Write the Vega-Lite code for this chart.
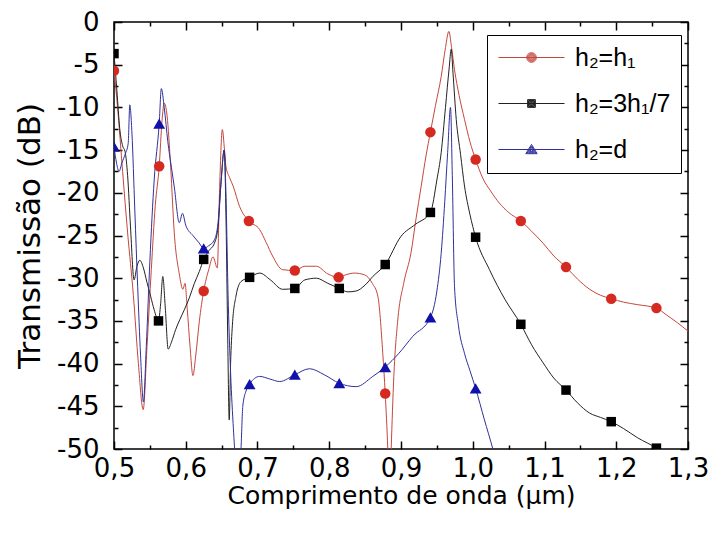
{
  "$schema": "https://vega.github.io/schema/vega-lite/v6.json",
  "width": 574,
  "height": 427,
  "autosize": {"type": "none"},
  "padding": {"left": 114, "top": 22, "right": 26, "bottom": 84},
  "background": "white",
  "config": {
    "view": {"stroke": "black", "strokeWidth": 1.5},
    "font": "DejaVu Sans",
    "axis": {
      "domain": false,
      "offset": -8,
      "tickSize": 8,
      "tickColor": "black",
      "tickWidth": 1.5,
      "grid": false,
      "labelFont": "DejaVu Sans",
      "labelFontSize": 26,
      "labelColor": "black",
      "labelOverlap": false,
      "labelFlush": false,
      "titleFont": "DejaVu Sans",
      "titleFontWeight": "normal",
      "titleColor": "black"
    }
  },
  "datasets": {
    "curves": [
      {"serie": "h₂=h₁", "x": 0.500, "y": -5.7},
      {"serie": "h₂=h₁", "x": 0.505, "y": -10},
      {"serie": "h₂=h₁", "x": 0.512, "y": -17.5},
      {"serie": "h₂=h₁", "x": 0.519, "y": -24.7},
      {"serie": "h₂=h₁", "x": 0.527, "y": -32},
      {"serie": "h₂=h₁", "x": 0.534, "y": -40},
      {"serie": "h₂=h₁", "x": 0.5407, "y": -45.4},
      {"serie": "h₂=h₁", "x": 0.546, "y": -38},
      {"serie": "h₂=h₁", "x": 0.552, "y": -29},
      {"serie": "h₂=h₁", "x": 0.5575, "y": -21.5},
      {"serie": "h₂=h₁", "x": 0.563, "y": -16.9},
      {"serie": "h₂=h₁", "x": 0.567, "y": -11.5},
      {"serie": "h₂=h₁", "x": 0.570, "y": -9.5},
      {"serie": "h₂=h₁", "x": 0.574, "y": -11},
      {"serie": "h₂=h₁", "x": 0.579, "y": -17},
      {"serie": "h₂=h₁", "x": 0.584, "y": -24.7},
      {"serie": "h₂=h₁", "x": 0.591, "y": -29.5},
      {"serie": "h₂=h₁", "x": 0.596, "y": -31.3},
      {"serie": "h₂=h₁", "x": 0.599, "y": -30.6},
      {"serie": "h₂=h₁", "x": 0.602, "y": -33.5},
      {"serie": "h₂=h₁", "x": 0.606, "y": -38},
      {"serie": "h₂=h₁", "x": 0.610, "y": -41.4},
      {"serie": "h₂=h₁", "x": 0.614, "y": -39},
      {"serie": "h₂=h₁", "x": 0.619, "y": -35},
      {"serie": "h₂=h₁", "x": 0.625, "y": -31.5},
      {"serie": "h₂=h₁", "x": 0.632, "y": -29},
      {"serie": "h₂=h₁", "x": 0.638, "y": -27.5},
      {"serie": "h₂=h₁", "x": 0.644, "y": -28.8},
      {"serie": "h₂=h₁", "x": 0.647, "y": -20},
      {"serie": "h₂=h₁", "x": 0.651, "y": -12.6},
      {"serie": "h₂=h₁", "x": 0.654, "y": -15},
      {"serie": "h₂=h₁", "x": 0.656, "y": -16.9},
      {"serie": "h₂=h₁", "x": 0.661, "y": -18.2},
      {"serie": "h₂=h₁", "x": 0.666, "y": -19.2},
      {"serie": "h₂=h₁", "x": 0.675, "y": -21.6},
      {"serie": "h₂=h₁", "x": 0.688, "y": -23.3},
      {"serie": "h₂=h₁", "x": 0.703, "y": -24.3},
      {"serie": "h₂=h₁", "x": 0.712, "y": -25.8},
      {"serie": "h₂=h₁", "x": 0.721, "y": -27.4},
      {"serie": "h₂=h₁", "x": 0.735, "y": -29.0},
      {"serie": "h₂=h₁", "x": 0.752, "y": -29.1},
      {"serie": "h₂=h₁", "x": 0.766, "y": -28.6},
      {"serie": "h₂=h₁", "x": 0.782, "y": -28.6},
      {"serie": "h₂=h₁", "x": 0.798, "y": -29.5},
      {"serie": "h₂=h₁", "x": 0.813, "y": -29.9},
      {"serie": "h₂=h₁", "x": 0.823, "y": -29.6},
      {"serie": "h₂=h₁", "x": 0.835, "y": -29.4},
      {"serie": "h₂=h₁", "x": 0.849, "y": -29.6},
      {"serie": "h₂=h₁", "x": 0.860, "y": -30.6},
      {"serie": "h₂=h₁", "x": 0.8677, "y": -32.1},
      {"serie": "h₂=h₁", "x": 0.8746, "y": -38.8},
      {"serie": "h₂=h₁", "x": 0.878, "y": -43.5},
      {"serie": "h₂=h₁", "x": 0.8816, "y": -50},
      {"serie": "h₂=h₁", "x": 0.884, "y": -56},
      {"serie": "h₂=h₁", "x": 0.8863, "y": -50},
      {"serie": "h₂=h₁", "x": 0.890, "y": -41.5},
      {"serie": "h₂=h₁", "x": 0.8955, "y": -34.9},
      {"serie": "h₂=h₁", "x": 0.904, "y": -30.5},
      {"serie": "h₂=h₁", "x": 0.914, "y": -27.0},
      {"serie": "h₂=h₁", "x": 0.921, "y": -23},
      {"serie": "h₂=h₁", "x": 0.928, "y": -19.3},
      {"serie": "h₂=h₁", "x": 0.935, "y": -15.6},
      {"serie": "h₂=h₁", "x": 0.941, "y": -12.9},
      {"serie": "h₂=h₁", "x": 0.948, "y": -9.8},
      {"serie": "h₂=h₁", "x": 0.956, "y": -6.4},
      {"serie": "h₂=h₁", "x": 0.962, "y": -3},
      {"serie": "h₂=h₁", "x": 0.9667, "y": -1.1},
      {"serie": "h₂=h₁", "x": 0.9705, "y": -3},
      {"serie": "h₂=h₁", "x": 0.9746, "y": -5.6},
      {"serie": "h₂=h₁", "x": 0.981, "y": -8.6},
      {"serie": "h₂=h₁", "x": 0.9885, "y": -11.4},
      {"serie": "h₂=h₁", "x": 0.996, "y": -14},
      {"serie": "h₂=h₁", "x": 1.004, "y": -16.1},
      {"serie": "h₂=h₁", "x": 1.014, "y": -18.3},
      {"serie": "h₂=h₁", "x": 1.025, "y": -19.8},
      {"serie": "h₂=h₁", "x": 1.037, "y": -21.2},
      {"serie": "h₂=h₁", "x": 1.050, "y": -22.3},
      {"serie": "h₂=h₁", "x": 1.067, "y": -23.3},
      {"serie": "h₂=h₁", "x": 1.082, "y": -24.5},
      {"serie": "h₂=h₁", "x": 1.098, "y": -25.9},
      {"serie": "h₂=h₁", "x": 1.113, "y": -27.4},
      {"serie": "h₂=h₁", "x": 1.130, "y": -28.7},
      {"serie": "h₂=h₁", "x": 1.146, "y": -30.1},
      {"serie": "h₂=h₁", "x": 1.163, "y": -31.3},
      {"serie": "h₂=h₁", "x": 1.178, "y": -32.0},
      {"serie": "h₂=h₁", "x": 1.193, "y": -32.4},
      {"serie": "h₂=h₁", "x": 1.210, "y": -32.8},
      {"serie": "h₂=h₁", "x": 1.230, "y": -33.1},
      {"serie": "h₂=h₁", "x": 1.256, "y": -33.5},
      {"serie": "h₂=h₁", "x": 1.270, "y": -34.3},
      {"serie": "h₂=h₁", "x": 1.285, "y": -35.2},
      {"serie": "h₂=h₁", "x": 1.300, "y": -36.2},

      {"serie": "h₂=3h₁/7", "x": 0.500, "y": -3.7},
      {"serie": "h₂=3h₁/7", "x": 0.504, "y": -8},
      {"serie": "h₂=3h₁/7", "x": 0.508, "y": -12.5},
      {"serie": "h₂=3h₁/7", "x": 0.512, "y": -14.5},
      {"serie": "h₂=3h₁/7", "x": 0.5155, "y": -15.2},
      {"serie": "h₂=3h₁/7", "x": 0.519, "y": -18},
      {"serie": "h₂=3h₁/7", "x": 0.523, "y": -24},
      {"serie": "h₂=3h₁/7", "x": 0.528, "y": -30.2},
      {"serie": "h₂=3h₁/7", "x": 0.532, "y": -28.6},
      {"serie": "h₂=3h₁/7", "x": 0.536, "y": -27.9},
      {"serie": "h₂=3h₁/7", "x": 0.541, "y": -28.8},
      {"serie": "h₂=3h₁/7", "x": 0.546, "y": -30.5},
      {"serie": "h₂=3h₁/7", "x": 0.551, "y": -32.1},
      {"serie": "h₂=3h₁/7", "x": 0.556, "y": -33.7},
      {"serie": "h₂=3h₁/7", "x": 0.562, "y": -35.0},
      {"serie": "h₂=3h₁/7", "x": 0.565, "y": -33},
      {"serie": "h₂=3h₁/7", "x": 0.568, "y": -29.8},
      {"serie": "h₂=3h₁/7", "x": 0.5715, "y": -33.5},
      {"serie": "h₂=3h₁/7", "x": 0.5755, "y": -38.3},
      {"serie": "h₂=3h₁/7", "x": 0.580, "y": -37.5},
      {"serie": "h₂=3h₁/7", "x": 0.586, "y": -36},
      {"serie": "h₂=3h₁/7", "x": 0.592, "y": -34.8},
      {"serie": "h₂=3h₁/7", "x": 0.598, "y": -33.7},
      {"serie": "h₂=3h₁/7", "x": 0.605, "y": -32.3},
      {"serie": "h₂=3h₁/7", "x": 0.612, "y": -30.6},
      {"serie": "h₂=3h₁/7", "x": 0.619, "y": -29.2},
      {"serie": "h₂=3h₁/7", "x": 0.625, "y": -27.8},
      {"serie": "h₂=3h₁/7", "x": 0.632, "y": -26.8},
      {"serie": "h₂=3h₁/7", "x": 0.640, "y": -25.9},
      {"serie": "h₂=3h₁/7", "x": 0.645, "y": -24},
      {"serie": "h₂=3h₁/7", "x": 0.649, "y": -19},
      {"serie": "h₂=3h₁/7", "x": 0.6536, "y": -15},
      {"serie": "h₂=3h₁/7", "x": 0.6565, "y": -25},
      {"serie": "h₂=3h₁/7", "x": 0.6585, "y": -37},
      {"serie": "h₂=3h₁/7", "x": 0.6606, "y": -46.6},
      {"serie": "h₂=3h₁/7", "x": 0.6625, "y": -40},
      {"serie": "h₂=3h₁/7", "x": 0.665, "y": -35.5},
      {"serie": "h₂=3h₁/7", "x": 0.670, "y": -32.1},
      {"serie": "h₂=3h₁/7", "x": 0.677, "y": -30.4},
      {"serie": "h₂=3h₁/7", "x": 0.689, "y": -29.9},
      {"serie": "h₂=3h₁/7", "x": 0.703, "y": -29.4},
      {"serie": "h₂=3h₁/7", "x": 0.718, "y": -30.2},
      {"serie": "h₂=3h₁/7", "x": 0.735, "y": -31.3},
      {"serie": "h₂=3h₁/7", "x": 0.752, "y": -31.2},
      {"serie": "h₂=3h₁/7", "x": 0.766, "y": -30.2},
      {"serie": "h₂=3h₁/7", "x": 0.782, "y": -30.0},
      {"serie": "h₂=3h₁/7", "x": 0.798, "y": -30.6},
      {"serie": "h₂=3h₁/7", "x": 0.814, "y": -31.2},
      {"serie": "h₂=3h₁/7", "x": 0.826, "y": -31.6},
      {"serie": "h₂=3h₁/7", "x": 0.8375, "y": -31.5},
      {"serie": "h₂=3h₁/7", "x": 0.850, "y": -30.8},
      {"serie": "h₂=3h₁/7", "x": 0.8607, "y": -29.8},
      {"serie": "h₂=3h₁/7", "x": 0.878, "y": -28.4},
      {"serie": "h₂=3h₁/7", "x": 0.900, "y": -25.1},
      {"serie": "h₂=3h₁/7", "x": 0.920, "y": -23.7},
      {"serie": "h₂=3h₁/7", "x": 0.941, "y": -22.3},
      {"serie": "h₂=3h₁/7", "x": 0.950, "y": -18.5},
      {"serie": "h₂=3h₁/7", "x": 0.956, "y": -15.3},
      {"serie": "h₂=3h₁/7", "x": 0.962, "y": -10},
      {"serie": "h₂=3h₁/7", "x": 0.967, "y": -5.5},
      {"serie": "h₂=3h₁/7", "x": 0.970, "y": -3.2},
      {"serie": "h₂=3h₁/7", "x": 0.9725, "y": -6},
      {"serie": "h₂=3h₁/7", "x": 0.977, "y": -11.4},
      {"serie": "h₂=3h₁/7", "x": 0.983, "y": -15.5},
      {"serie": "h₂=3h₁/7", "x": 0.9885, "y": -19.2},
      {"serie": "h₂=3h₁/7", "x": 0.996, "y": -22.5},
      {"serie": "h₂=3h₁/7", "x": 1.004, "y": -25.2},
      {"serie": "h₂=3h₁/7", "x": 1.0233, "y": -29.0},
      {"serie": "h₂=3h₁/7", "x": 1.045, "y": -32.5},
      {"serie": "h₂=3h₁/7", "x": 1.067, "y": -35.4},
      {"serie": "h₂=3h₁/7", "x": 1.082, "y": -37.8},
      {"serie": "h₂=3h₁/7", "x": 1.098, "y": -39.9},
      {"serie": "h₂=3h₁/7", "x": 1.113, "y": -41.7},
      {"serie": "h₂=3h₁/7", "x": 1.130, "y": -43.1},
      {"serie": "h₂=3h₁/7", "x": 1.146, "y": -44.6},
      {"serie": "h₂=3h₁/7", "x": 1.163, "y": -45.8},
      {"serie": "h₂=3h₁/7", "x": 1.178, "y": -46.3},
      {"serie": "h₂=3h₁/7", "x": 1.193, "y": -46.8},
      {"serie": "h₂=3h₁/7", "x": 1.210, "y": -47.6},
      {"serie": "h₂=3h₁/7", "x": 1.230, "y": -48.7},
      {"serie": "h₂=3h₁/7", "x": 1.256, "y": -49.9},
      {"serie": "h₂=3h₁/7", "x": 1.280, "y": -51.5},
      {"serie": "h₂=3h₁/7", "x": 1.300, "y": -53},

      {"serie": "h₂=d", "x": 0.500, "y": -14.6},
      {"serie": "h₂=d", "x": 0.5035, "y": -16.5},
      {"serie": "h₂=d", "x": 0.507, "y": -17.5},
      {"serie": "h₂=d", "x": 0.511, "y": -16.5},
      {"serie": "h₂=d", "x": 0.5155, "y": -15.5},
      {"serie": "h₂=d", "x": 0.5198, "y": -14.2},
      {"serie": "h₂=d", "x": 0.522, "y": -9.7},
      {"serie": "h₂=d", "x": 0.525, "y": -13},
      {"serie": "h₂=d", "x": 0.529, "y": -22},
      {"serie": "h₂=d", "x": 0.533, "y": -31},
      {"serie": "h₂=d", "x": 0.537, "y": -39},
      {"serie": "h₂=d", "x": 0.541, "y": -44.5},
      {"serie": "h₂=d", "x": 0.545, "y": -38},
      {"serie": "h₂=d", "x": 0.550, "y": -28},
      {"serie": "h₂=d", "x": 0.556, "y": -18.5},
      {"serie": "h₂=d", "x": 0.563, "y": -11.9},
      {"serie": "h₂=d", "x": 0.566, "y": -7.8},
      {"serie": "h₂=d", "x": 0.570, "y": -10},
      {"serie": "h₂=d", "x": 0.575, "y": -14},
      {"serie": "h₂=d", "x": 0.580, "y": -17},
      {"serie": "h₂=d", "x": 0.584, "y": -19.3},
      {"serie": "h₂=d", "x": 0.591, "y": -23.5},
      {"serie": "h₂=d", "x": 0.5955, "y": -22.4},
      {"serie": "h₂=d", "x": 0.600, "y": -23.8},
      {"serie": "h₂=d", "x": 0.610, "y": -25},
      {"serie": "h₂=d", "x": 0.618, "y": -25.8},
      {"serie": "h₂=d", "x": 0.625, "y": -26.5},
      {"serie": "h₂=d", "x": 0.632, "y": -26.2},
      {"serie": "h₂=d", "x": 0.640, "y": -25.5},
      {"serie": "h₂=d", "x": 0.645, "y": -23.5},
      {"serie": "h₂=d", "x": 0.649, "y": -19},
      {"serie": "h₂=d", "x": 0.6536, "y": -15},
      {"serie": "h₂=d", "x": 0.656, "y": -20},
      {"serie": "h₂=d", "x": 0.659, "y": -32},
      {"serie": "h₂=d", "x": 0.662, "y": -40},
      {"serie": "h₂=d", "x": 0.666, "y": -47},
      {"serie": "h₂=d", "x": 0.669, "y": -51},
      {"serie": "h₂=d", "x": 0.6735, "y": -54},
      {"serie": "h₂=d", "x": 0.677, "y": -50},
      {"serie": "h₂=d", "x": 0.6795, "y": -45.0},
      {"serie": "h₂=d", "x": 0.684, "y": -43.2},
      {"serie": "h₂=d", "x": 0.689, "y": -42.4},
      {"serie": "h₂=d", "x": 0.703, "y": -41.5},
      {"serie": "h₂=d", "x": 0.717, "y": -41.8},
      {"serie": "h₂=d", "x": 0.731, "y": -42.1},
      {"serie": "h₂=d", "x": 0.752, "y": -41.3},
      {"serie": "h₂=d", "x": 0.7725, "y": -40.6},
      {"serie": "h₂=d", "x": 0.793, "y": -41.3},
      {"serie": "h₂=d", "x": 0.814, "y": -42.3},
      {"serie": "h₂=d", "x": 0.8375, "y": -42.7},
      {"serie": "h₂=d", "x": 0.8607, "y": -41.5},
      {"serie": "h₂=d", "x": 0.878, "y": -40.4},
      {"serie": "h₂=d", "x": 0.897, "y": -38.8},
      {"serie": "h₂=d", "x": 0.9165, "y": -36.8},
      {"serie": "h₂=d", "x": 0.941, "y": -34.6},
      {"serie": "h₂=d", "x": 0.950, "y": -31.5},
      {"serie": "h₂=d", "x": 0.956, "y": -27.1},
      {"serie": "h₂=d", "x": 0.961, "y": -21},
      {"serie": "h₂=d", "x": 0.965, "y": -15.3},
      {"serie": "h₂=d", "x": 0.969, "y": -10.0},
      {"serie": "h₂=d", "x": 0.9715, "y": -18},
      {"serie": "h₂=d", "x": 0.9746, "y": -31.0},
      {"serie": "h₂=d", "x": 0.980, "y": -35.5},
      {"serie": "h₂=d", "x": 0.9885, "y": -38.8},
      {"serie": "h₂=d", "x": 0.996, "y": -40.8},
      {"serie": "h₂=d", "x": 1.004, "y": -42.9},
      {"serie": "h₂=d", "x": 1.016, "y": -46.5},
      {"serie": "h₂=d", "x": 1.028, "y": -50},
      {"serie": "h₂=d", "x": 1.040, "y": -54}
    ],
    "markers": [
      {"serie": "h₂=h₁", "x": 0.500, "y": -5.7},
      {"serie": "h₂=h₁", "x": 0.563, "y": -16.9},
      {"serie": "h₂=h₁", "x": 0.625, "y": -31.5},
      {"serie": "h₂=h₁", "x": 0.688, "y": -23.3},
      {"serie": "h₂=h₁", "x": 0.752, "y": -29.1},
      {"serie": "h₂=h₁", "x": 0.813, "y": -29.9},
      {"serie": "h₂=h₁", "x": 0.878, "y": -43.5},
      {"serie": "h₂=h₁", "x": 0.941, "y": -12.9},
      {"serie": "h₂=h₁", "x": 1.004, "y": -16.1},
      {"serie": "h₂=h₁", "x": 1.067, "y": -23.3},
      {"serie": "h₂=h₁", "x": 1.130, "y": -28.7},
      {"serie": "h₂=h₁", "x": 1.193, "y": -32.4},
      {"serie": "h₂=h₁", "x": 1.256, "y": -33.5},
      {"serie": "h₂=3h₁/7", "x": 0.500, "y": -3.7},
      {"serie": "h₂=3h₁/7", "x": 0.562, "y": -35.0},
      {"serie": "h₂=3h₁/7", "x": 0.625, "y": -27.8},
      {"serie": "h₂=3h₁/7", "x": 0.689, "y": -29.9},
      {"serie": "h₂=3h₁/7", "x": 0.752, "y": -31.2},
      {"serie": "h₂=3h₁/7", "x": 0.814, "y": -31.2},
      {"serie": "h₂=3h₁/7", "x": 0.878, "y": -28.4},
      {"serie": "h₂=3h₁/7", "x": 0.941, "y": -22.3},
      {"serie": "h₂=3h₁/7", "x": 1.004, "y": -25.2},
      {"serie": "h₂=3h₁/7", "x": 1.067, "y": -35.4},
      {"serie": "h₂=3h₁/7", "x": 1.130, "y": -43.1},
      {"serie": "h₂=3h₁/7", "x": 1.193, "y": -46.8},
      {"serie": "h₂=3h₁/7", "x": 1.256, "y": -49.9},
      {"serie": "h₂=d", "x": 0.500, "y": -14.6},
      {"serie": "h₂=d", "x": 0.563, "y": -11.9},
      {"serie": "h₂=d", "x": 0.625, "y": -26.5},
      {"serie": "h₂=d", "x": 0.689, "y": -42.4},
      {"serie": "h₂=d", "x": 0.752, "y": -41.3},
      {"serie": "h₂=d", "x": 0.814, "y": -42.3},
      {"serie": "h₂=d", "x": 0.878, "y": -40.4},
      {"serie": "h₂=d", "x": 0.941, "y": -34.6},
      {"serie": "h₂=d", "x": 1.004, "y": -42.9}
    ]
  },
  "resolve": {"axis": {"x": "independent", "y": "independent"}},
  "layer": [
    {
      "data": {"name": "curves"},
      "mark": {"type": "line", "clip": true, "strokeWidth": 1, "interpolate": "monotone"},
      "encoding": {
        "x": {
          "field": "x", "type": "quantitative",
          "scale": {"domain": [0.5, 1.3], "nice": false, "zero": false},
          "axis": {
            "orient": "bottom",
            "title": "Comprimento de onda (μm)",
            "titleFontSize": 25,
            "titlePadding": 2,
            "values": [0.5, 0.55, 0.6, 0.65, 0.7, 0.75, 0.8, 0.85, 0.9, 0.95, 1.0, 1.05, 1.1, 1.15, 1.2, 1.25, 1.3],
            "tickDash": {"condition": {"test": "abs(datum.value * 10 - round(datum.value * 10)) > 0.001", "value": [4, 4]}, "value": []},
            "tickDashOffset": {"condition": {"test": "abs(datum.value * 10 - round(datum.value * 10)) > 0.001", "value": 4}, "value": 0},
            "labelPadding": 6,
            "labelExpr": "abs(datum.value * 10 - round(datum.value * 10)) < 0.001 ? replace(format(datum.value, '.1f'), '.', ',') : ''"
          }
        },
        "y": {
          "field": "y", "type": "quantitative",
          "scale": {"domain": [-50, 0], "nice": false, "zero": false},
          "axis": {
            "orient": "left",
            "title": "Transmissão (dB)",
            "titleFontSize": 31,
            "titlePadding": 10,
            "values": [-50, -47.5, -45, -42.5, -40, -37.5, -35, -32.5, -30, -27.5, -25, -22.5, -20, -17.5, -15, -12.5, -10, -7.5, -5, -2.5, 0],
            "tickDash": {"condition": {"test": "datum.value % 5 !== 0", "value": [4, 4]}, "value": []},
            "tickDashOffset": {"condition": {"test": "datum.value % 5 !== 0", "value": 4}, "value": 0},
            "labelPadding": 15,
            "labelExpr": "datum.value % 5 === 0 ? '' + datum.value : ''"
          }
        },
        "stroke": {
          "field": "serie", "type": "nominal",
          "scale": {"domain": ["h₂=h₁", "h₂=3h₁/7", "h₂=d"], "range": ["#c4473c", "#222222", "#30309c"]}
        }
      }
    },
    {
      "data": {"name": "markers"},
      "transform": [{"filter": "datum.serie === 'h₂=h₁'"}],
      "mark": {"type": "point", "shape": "circle", "filled": true, "fill": "#d42a20", "size": 110, "clip": true, "opacity": 1},
      "encoding": {
        "x": {
          "field": "x", "type": "quantitative",
          "axis": {
            "orient": "top",
            "title": null,
            "labels": false,
            "values": [0.5, 0.55, 0.6, 0.65, 0.7, 0.75, 0.8, 0.85, 0.9, 0.95, 1.0, 1.05, 1.1, 1.15, 1.2, 1.25, 1.3],
            "tickDash": {"condition": {"test": "abs(datum.value * 10 - round(datum.value * 10)) > 0.001", "value": [4, 4]}, "value": []},
            "tickDashOffset": {"condition": {"test": "abs(datum.value * 10 - round(datum.value * 10)) > 0.001", "value": 4}, "value": 0}
          }
        },
        "y": {
          "field": "y", "type": "quantitative",
          "axis": {
            "orient": "right",
            "title": null,
            "labels": false,
            "values": [-50, -47.5, -45, -42.5, -40, -37.5, -35, -32.5, -30, -27.5, -25, -22.5, -20, -17.5, -15, -12.5, -10, -7.5, -5, -2.5, 0],
            "tickDash": {"condition": {"test": "datum.value % 5 !== 0", "value": [4, 4]}, "value": []},
            "tickDashOffset": {"condition": {"test": "datum.value % 5 !== 0", "value": 4}, "value": 0}
          }
        }
      }
    },
    {
      "data": {"name": "markers"},
      "transform": [{"filter": "datum.serie === 'h₂=3h₁/7'"}],
      "mark": {"type": "point", "shape": "square", "filled": true, "fill": "#000000", "size": 90, "clip": true, "opacity": 1},
      "encoding": {
        "x": {"field": "x", "type": "quantitative", "axis": null},
        "y": {"field": "y", "type": "quantitative", "axis": null}
      }
    },
    {
      "data": {"name": "markers"},
      "transform": [{"filter": "datum.serie === 'h₂=d'"}],
      "mark": {"type": "point", "shape": "triangle-up", "filled": true, "fill": "#1010aa", "size": 140, "clip": true, "opacity": 1},
      "encoding": {
        "x": {"field": "x", "type": "quantitative", "axis": null},
        "y": {"field": "y", "type": "quantitative", "axis": null}
      }
    },
    {
      "data": {"name": "markers"},
      "mark": {"type": "point", "filled": true, "strokeWidth": 1, "clip": true},
      "encoding": {
        "x": {"field": "x", "type": "quantitative", "axis": null},
        "y": {"field": "y", "type": "quantitative", "axis": null},
        "opacity": {"value": 0},
        "fill": {
          "field": "serie", "type": "nominal",
          "scale": {"domain": ["h₂=h₁", "h₂=3h₁/7", "h₂=d"], "range": ["#d42a20", "#000000", "#1010aa"]}
        },
        "stroke": {"field": "serie", "type": "nominal"},
        "shape": {
          "field": "serie", "type": "nominal",
          "scale": {
            "domain": ["h₂=h₁", "h₂=3h₁/7", "h₂=d"],
            "range": [
              "M-5.5,0L5.5,0M-0.8,0A0.8,0.8 0 1,0 0.8,0A0.8,0.8 0 1,0 -0.8,0ZM-0.65,0A0.65,0.65 0 1,0 0.65,0A0.65,0.65 0 1,0 -0.65,0ZM-0.5,0A0.5,0.5 0 1,0 0.5,0A0.5,0.5 0 1,0 -0.5,0ZM-0.35,0A0.35,0.35 0 1,0 0.35,0A0.35,0.35 0 1,0 -0.35,0ZM-0.2,0A0.2,0.2 0 1,0 0.2,0A0.2,0.2 0 1,0 -0.2,0ZM-0.06,0A0.06,0.06 0 1,0 0.06,0A0.06,0.06 0 1,0 -0.06,0Z",
              "M-5.5,0L5.5,0M-0.65,-0.65L0.65,-0.65L0.65,0.65L-0.65,0.65ZM-0.5,-0.5L0.5,-0.5L0.5,0.5L-0.5,0.5ZM-0.35,-0.35L0.35,-0.35L0.35,0.35L-0.35,0.35ZM-0.2,-0.2L0.2,-0.2L0.2,0.2L-0.2,0.2ZM-0.06,-0.06L0.06,-0.06L0.06,0.06L-0.06,0.06Z",
              "M-5.5,0L5.5,0M0,-0.85L0.95,0.7L-0.95,0.7ZM0,-0.592L0.7125,0.571L-0.7125,0.571ZM0,-0.334L0.475,0.442L-0.475,0.442ZM0,-0.075L0.2375,0.312L-0.2375,0.312Z"
            ]
          },
          "legend": {
            "title": null,
            "orient": "none",
            "legendX": 373,
            "legendY": 13,
            "padding": 10,
            "fillColor": "white",
            "strokeColor": "black",
            "symbolSize": 144,
            "symbolOpacity": 1,
            "symbolStrokeWidth": 1,
            "symbolOffset": 22,
            "labelOffset": 31,
            "rowPadding": 20,
            "labelFont": "Liberation Sans",
            "labelFontSize": 25,
            "labelColor": "black",
            "labelLimit": 0
          }
        }
      }
    }
  ]
}
